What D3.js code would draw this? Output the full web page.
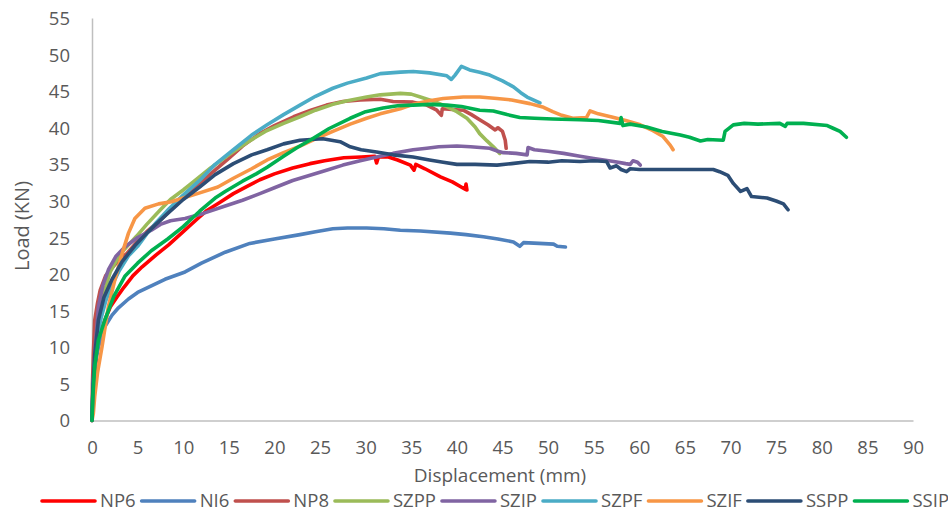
<!DOCTYPE html>
<html><head><meta charset="utf-8">
<script src="https://cdn.jsdelivr.net/npm/d3@7"></script>
<style>
html,body{margin:0;padding:0;background:#fff;}
svg{display:block;font-family:"Open Sans",Calibri,sans-serif;}
</style></head>
<body><svg id="c" width="948" height="514"></svg>
<script>
// ---------- DATA ----------
const seriesNames = ["NP6","NI6","NP8","SZPP","SZIP","SZPF","SZIF","SSPP","SSIP"];
const seriesColors = ["#FF0000","#4F81BD","#C0504D","#9BBB59","#8064A2","#4BACC6","#F79646","#2C4D75","#00B050"];
const xTicks = [0,5,10,15,20,25,30,35,40,45,50,55,60,65,70,75,80,85,90];
const yTicks = [0,5,10,15,20,25,30,35,40,45,50,55];
const xTitle = "Displacement (mm)";
const yTitle = "Load (KN)";

const NP6 = [[0,0],[0.2,5],[0.5,9],[1,12.2],[1.5,14],[2,15.5],[2.7,16.8],[3.5,18.2],[4.5,19.8],[5.5,21],[7,22.6],[8.4,24],[10,25.8],[11.5,27.5],[12.6,28.7],[14,29.8],[15.5,31],[17,32],[18.4,32.9],[20,33.7],[22,34.5],[23.9,35.1],[25.5,35.5],[27.6,35.9],[29.5,36.0],[31,36.1],[31.2,35.2],[31.4,36.0],[32.5,36.0],[33.5,35.6],[34.9,34.9],[35.3,34.2],[35.5,35.0],[36.5,34.4],[38.2,33.3],[39.5,32.6],[40.9,31.6],[41,32.3],[41.1,31.5]];
const NI6 = [[0,0],[0.1,4],[0.3,7.5],[0.7,10.1],[1.4,12.8],[2.2,14.4],[2.9,15.4],[4,16.6],[5,17.5],[6.5,18.4],[8,19.3],[10.2,20.3],[12,21.5],[14.6,23.0],[17.3,24.2],[20,24.8],[22.8,25.4],[24.5,25.8],[26.4,26.2],[28,26.3],[30.1,26.3],[32,26.2],[33.8,26.0],[36,25.9],[39.3,25.6],[41,25.4],[42.9,25.1],[44.5,24.8],[46.2,24.4],[46.9,23.8],[47.3,24.3],[49,24.2],[50.6,24.1],[51,23.8],[51.9,23.7]];
const NP8 = [[0,0],[0.05,5],[0.15,9.2],[0.3,13.7],[0.6,16],[0.9,17.8],[1.5,19.8],[2.3,21],[3,22],[3.8,22.8],[5,24.5],[6,25.8],[7.5,27.4],[9,29.2],[11.1,31.6],[13,33.7],[14.8,35.6],[16.5,37.5],[18.4,39.2],[20,40.3],[22.1,41.5],[24,42.4],[25.7,43.1],[27.5,43.6],[29.4,43.8],[31.6,43.9],[33,43.6],[35.2,43.5],[36.7,43.1],[37.8,42.4],[38.3,41.7],[38.4,42.6],[39.5,42.5],[40.7,42.4],[41.6,41.8],[42.5,41.1],[43.4,40.4],[44.2,39.7],[44.5,40.0],[45.0,39.5],[45.3,38.3],[45.4,37.2]];
const SZPP = [[0,0],[0.1,4],[0.3,8.5],[0.7,13.5],[1.2,17],[2,20.3],[3,22.6],[4,24],[4.9,25.2],[6,26.8],[7.5,28.8],[8.6,30.2],[10,31.5],[11.1,32.6],[13,34.5],[15,36.3],[17,38],[19,39.5],[21,40.6],[22.8,41.5],[24.5,42.4],[26.4,43.2],[28,43.7],[30.1,44.2],[31.6,44.5],[33.8,44.7],[35,44.6],[36,44.2],[37.5,43.6],[38.9,42.9],[40,42.2],[41.1,41.3],[42,40.1],[42.5,39.2],[43.3,38.2],[44,37.4],[44.7,36.5]];
const SZIP = [[0,0],[0.1,4],[0.3,9],[0.7,15.5],[1.2,18.5],[1.8,20.6],[2.6,22.4],[3.6,23.7],[5,25],[6.5,26],[7.5,26.8],[8.6,27.3],[10.2,27.6],[12.2,28.3],[14.6,29.3],[16.5,30.1],[18.4,31.0],[20,31.8],[22,32.8],[23.9,33.5],[25.7,34.2],[27.5,34.9],[29.4,35.5],[31.2,36.0],[33,36.5],[35.2,37.0],[36.7,37.2],[38,37.4],[40,37.5],[41.5,37.4],[43.6,37.2],[44.5,36.8],[45.1,36.6],[46.5,36.5],[47.7,36.3],[47.8,37.3],[48.5,37.0],[50,36.8],[51.7,36.5],[53.5,36.1],[55,35.8],[57.2,35.4],[58.5,35.1],[59,35.0],[59.3,35.5],[59.8,35.3],[60.1,34.9]];
const SZPF = [[0,0],[0.1,4],[0.3,8],[0.6,11.5],[1,14],[1.5,16.3],[2,18],[3,20.5],[4,22.5],[5,23.8],[6,25.5],[7,27],[8.5,29],[10,30.8],[11.8,32.8],[13.5,35],[15.5,37],[17.5,39],[19.2,40.4],[21,41.8],[22.8,43.1],[24.5,44.3],[26.4,45.4],[28,46.1],[30.1,46.8],[31.6,47.4],[33.8,47.6],[35.2,47.7],[37,47.5],[38.9,47.1],[39.4,46.6],[39.8,47.2],[40.5,48.4],[41.4,47.9],[42.5,47.6],[43.6,47.2],[45,46.4],[46.2,45.6],[47,44.8],[47.7,44.2],[49.1,43.4]];
const SZIF = [[0,0],[0.15,1],[0.3,3.3],[0.6,6.5],[1.1,10.1],[1.8,15.6],[2.5,19.2],[3.3,22.8],[4,25.6],[4.7,27.6],[5.8,29.0],[7.3,29.6],[8.7,29.9],[10,30.4],[11.3,30.9],[13.8,31.9],[15.5,33.1],[17.5,34.4],[19.2,35.6],[21,36.6],[22.8,37.5],[24.5,38.5],[26.4,39.5],[28.3,40.5],[30.1,41.3],[31.6,41.9],[33.8,42.6],[35.2,43.2],[37,43.7],[38.5,44.0],[40.7,44.2],[42.5,44.2],[44.4,44.0],[46,43.8],[48,43.3],[49.5,42.8],[50.5,42.2],[51.5,41.7],[52.7,41.3],[54.2,41.4],[54.6,42.3],[55.5,41.9],[57.2,41.4],[58.5,41.0],[60.1,40.4],[61.5,39.6],[62.6,38.8],[63.4,37.6],[63.7,37.0]];
const SSPP = [[0,0],[0.1,4.5],[0.3,9],[0.7,13.7],[1.3,16.8],[2.2,19.3],[3.3,21.7],[4.7,23.9],[6,25.6],[7,26.8],[8.3,28.3],[10,30.2],[11.8,31.9],[13.5,33.6],[15.5,35.1],[17.5,36.3],[19.2,37.0],[21,37.8],[22.8,38.3],[24,38.4],[25.3,38.5],[27.2,38.1],[28.3,37.4],[29.5,37.0],[31.2,36.7],[33,36.3],[35.2,36.0],[37,35.6],[38.5,35.3],[40,35.0],[42,35.0],[44.4,34.9],[46,35.1],[48,35.4],[50,35.3],[51.5,35.5],[53.5,35.4],[55,35.5],[56.4,35.4],[56.8,34.5],[57.5,34.8],[58.0,34.3],[58.6,34.0],[59.0,34.4],[60,34.3],[68.1,34.3],[68.8,34.0],[69.7,33.5],[70.3,32.4],[71.1,31.3],[71.8,31.7],[72.3,30.6],[74,30.4],[75,30.0],[75.8,29.6],[76.3,28.8]];
const SSIP = [[0,0],[0.1,3.5],[0.3,7.4],[0.7,11],[1.4,13.7],[2.4,17],[3.6,19.7],[5,21.5],[6.5,23.2],[8.3,24.8],[10,26.5],[11.8,28.6],[13.5,30.4],[14.6,31.3],[16.5,32.7],[18,33.7],[19.2,34.6],[21,36.1],[22.5,37.3],[23.9,38.3],[26,39.9],[28.3,41.3],[30,42.2],[31.9,42.7],[33.5,43.0],[35.2,43.1],[37,43.2],[38.9,43.1],[40.5,42.9],[42.5,42.4],[44,42.3],[45.5,41.8],[46.9,41.4],[48.5,41.3],[50.5,41.2],[53.5,41.1],[55.5,41.0],[57.9,40.6],[58.0,41.4],[58.2,40.3],[59,40.5],[60.8,40.1],[62.5,39.5],[64.5,39.0],[65.5,38.7],[66.7,38.2],[67.5,38.4],[69.2,38.3],[69.4,39.5],[70.3,40.4],[71.5,40.6],[73,40.5],[75.4,40.6],[76,40.2],[76.2,40.6],[78,40.6],[80.6,40.3],[81.3,39.9],[82,39.5],[82.7,38.7]];
const seriesData = [NP6,NI6,NP8,SZPP,SZIP,SZPF,SZIF,SSPP,SSIP];

// ---------- CHART ----------
const svg = d3.select("#c");
const x = d3.scaleLinear().domain([0,90]).range([92,913]);
const y = d3.scaleLinear().domain([0,55]).range([420.5,18]);
const axisColor = "#BFBFBF", textColor = "#595959";

// axes
const gx = svg.append("g").attr("transform","translate(0,"+y(0)+")")
  .call(d3.axisBottom(x).tickValues(xTicks).tickSize(0).tickPadding(20).tickFormat(d3.format("d")));
const gy = svg.append("g").attr("transform","translate("+x(0)+",0)")
  .call(d3.axisLeft(y).tickValues(yTicks).tickSize(0).tickPadding(22).tickFormat(d3.format("d")));
[gx,gy].forEach(g=>{
  g.select(".domain").attr("stroke",axisColor).attr("stroke-width",1.5);
  g.selectAll("text").attr("fill",textColor).style("font-size","18.5px").style("font-family","'Open Sans',sans-serif");
});
gy.selectAll("text").attr("dy","0.35em");

// lines
const line = d3.line().x(d=>x(d[0])).y(d=>y(d[1])).curve(d3.curveLinear);
svg.append("g").selectAll("path").data(seriesData).join("path")
  .attr("d",line).attr("fill","none")
  .attr("stroke",(d,i)=>seriesColors[i]).attr("stroke-width",3.6)
  .attr("stroke-linejoin","round").attr("stroke-linecap","round");

// titles
svg.append("text").attr("x",500).attr("y",482).attr("text-anchor","middle")
  .attr("fill",textColor).style("font-size","19px").text(xTitle);
svg.append("text").attr("transform","translate(29,226) rotate(-90)").attr("text-anchor","middle")
  .attr("fill",textColor).style("font-size","20px").text(yTitle);

// legend
const lg = svg.append("g");
let lx = 42;
seriesNames.forEach((n,i)=>{
  lg.append("line").attr("x1",lx).attr("x2",lx+53).attr("y1",501).attr("y2",501)
    .attr("stroke",seriesColors[i]).attr("stroke-width",3.6).attr("stroke-linecap","round");
  const t = lg.append("text").attr("x",lx+58).attr("y",501).attr("dy","0.35em")
    .attr("fill",textColor).style("font-size","18.5px").text(n);
  lx += 58 + t.node().getComputedTextLength() + 6;
});
</script>
</body></html>
